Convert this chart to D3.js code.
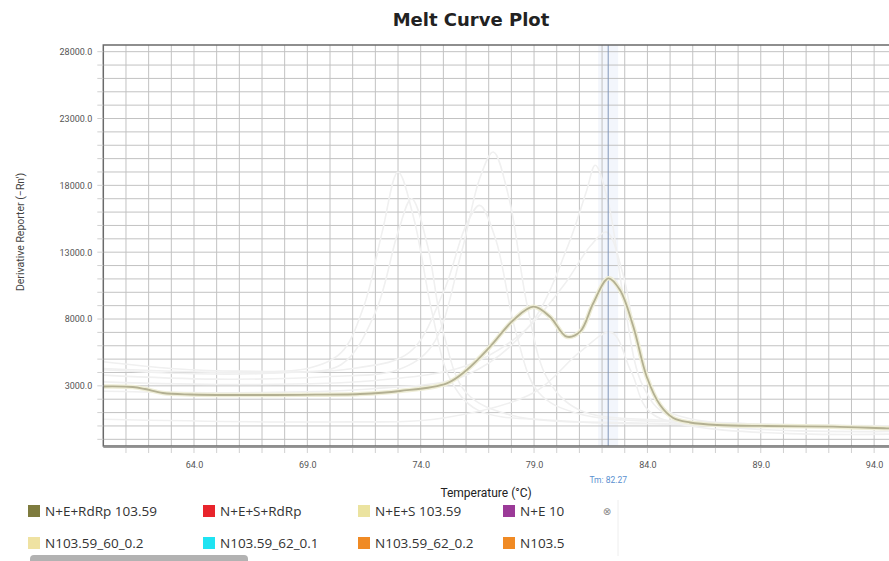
<!DOCTYPE html>
<html>
<head>
<meta charset="utf-8">
<script src="https://cdn.jsdelivr.net/npm/d3@7"></script>
<style>
  html, body { margin: 0; padding: 0; background: #fff; overflow: hidden; }
  svg { display: block; }
</style>
</head>
<body>
<svg id="chart" width="889" height="561"></svg>
<script>
// ---------------- DATA ----------------
const chartTitle = "Melt Curve Plot";
const xLabel = "Temperature (°C)";
const yLabel = "Derivative Reporter (\u2212Rn')";
const xDomain = [60, 95];
const yDomain = [-1500, 28500];
const xTickValues = [64, 69, 74, 79, 84, 89, 94];
const yTickValues = [3000, 8000, 13000, 18000, 23000, 28000];
const tmValue = 82.27;

// highlighted sample (N+E+RdRp 103.59)
const mainTemps  = [60, 61.3, 61.84, 62.63, 63.82, 66.47, 68.68, 71.32, 73.09, 75.15, 76.03, 77.06, 78.09, 78.97, 79.7, 80.44, 81.03, 81.61, 82.28, 82.79, 83.38, 83.97, 84.56, 85.14, 85.88, 87.06, 89.26, 92.19, 94.56, 95];
const mainValues = [2950, 2914, 2764, 2465, 2353, 2315, 2330, 2390, 2615, 3190, 4186, 5929, 7926, 8921, 8173, 6677, 7051, 9176, 11046, 10170, 7425, 3684, 1567, 594, 258, 71, -4, -56, -176, -190];

// faded (non-selected) samples: [temperature, value]
const fadedA = [[60,4800],[63,4300],[66,4100],[69,4300],[70.5,5500],[71.5,9000],[72.3,14500],[73,19000],[73.7,15500],[74.5,8500],[75.3,3500],[76.5,1200],[80,400],[86,100],[95,-200]];
const fadedB = [[60,4200],[64,3900],[68,4000],[70.5,4600],[72,8500],[73,14500],[73.6,17000],[74.3,13500],[75,7000],[76,2500],[78,800],[84,200],[95,-100]];
const fadedC = [[60,3800],[65,3500],[70,3700],[73,4200],[74.5,6000],[75.8,13000],[76.6,18500],[77.2,20500],[77.9,17000],[78.7,9000],[79.6,3500],[81,1200],[85,400],[95,0]];
const fadedD = [[60,4300],[66,4000],[71,4300],[73.5,5500],[75,10000],[76,15000],[76.6,16500],[77.3,14000],[78.2,7000],[79.2,2500],[81,900],[88,200],[95,-300]];
const fadedE = [[60,3300],[66,3100],[72,3400],[76,4500],[78.5,7000],[80.3,10500],[81.5,13500],[82.2,14500],[82.9,11500],[83.7,5000],[84.6,1500],[86,500],[95,-100]];
const fadedF = [[60,2600],[67,2500],[72,2800],[76,3800],[78.8,7500],[80.5,13500],[81.3,17500],[81.7,19500],[82.3,16500],[83,9000],[83.8,3000],[85,700],[95,-400]];
const fadedG = [[60,500],[70,300],[75,600],[79,2500],[81,5500],[82.4,7000],[83.3,4000],[84.3,800],[95,-600]];

const legendLabels = ["N+E+RdRp 103.59", "N+E+S+RdRp", "N+E+S 103.59", "N+E 10",
                      "N103.59_60_0.2", "N103.59_62_0.1", "N103.59_62_0.2", "N103.5"];
const legendColors = ["#7e7b3e", "#e8242c", "#ebe3a0", "#9b3a98",
                      "#efe2a2", "#1fe3f2", "#f08a24", "#f08a24"];

// ---------------- LAYOUT ----------------
const svg = d3.select("#chart");
const plot = { left: 103.3, top: 45, right: 896.8, bottom: 446 };

const x = d3.scaleLinear().domain(xDomain).range([plot.left, plot.right]);
const y = d3.scaleLinear().domain(yDomain).range([plot.bottom, plot.top]);

svg.append("defs").append("clipPath").attr("id", "clip")
  .append("rect").attr("x", plot.left).attr("y", plot.top)
  .attr("width", plot.right - plot.left).attr("height", plot.bottom - plot.top);

// title
svg.append("text").attr("x", 471).attr("y", 26).attr("text-anchor", "middle")
  .attr("font-family", "DejaVu Sans, Verdana, sans-serif").attr("font-weight", "bold")
  .attr("font-size", 18).attr("fill", "#222").text(chartTitle);

const g = svg.append("g").attr("clip-path", "url(#clip)");

// Tm highlight band
g.append("rect").attr("x", x(tmValue) - 10).attr("y", plot.top)
  .attr("width", 20).attr("height", plot.bottom - plot.top)
  .attr("fill", "#f3f6fc");

// grid
const xGrid = d3.range(61, 95, 1);
const yGrid = d3.range(-1000, 28001, 1000);
g.append("g").selectAll("line").data(xGrid).join("line")
  .attr("x1", d => x(d)).attr("x2", d => x(d))
  .attr("y1", plot.top).attr("y2", plot.bottom)
  .attr("stroke", "#c2c2c2").attr("stroke-width", 1);
g.append("g").selectAll("line").data(yGrid).join("line")
  .attr("x1", plot.left).attr("x2", plot.right)
  .attr("y1", d => y(d)).attr("y2", d => y(d))
  .attr("stroke", "#c2c2c2").attr("stroke-width", 1);

// faded curves
const line = d3.line().x(d => x(d[0])).y(d => y(d[1])).curve(d3.curveCatmullRom.alpha(0.5));
const faded = [fadedA, fadedB, fadedC, fadedD, fadedE, fadedF, fadedG];
g.append("g").selectAll("path").data(faded).join("path")
  .attr("d", line).attr("fill", "none")
  .attr("stroke", "#f0f0f0").attr("stroke-width", 1.6);

// Tm line
g.append("line").attr("x1", x(tmValue)).attr("x2", x(tmValue))
  .attr("y1", plot.top).attr("y2", plot.bottom)
  .attr("stroke", "#8096b8").attr("stroke-width", 1);

// main curve
const mainData = mainTemps.map((t, i) => [t, mainValues[i]]);
g.append("path").attr("d", line(mainData)).attr("fill", "none")
  .attr("stroke", "#efeed8").attr("stroke-width", 4.5);
g.append("path").attr("d", line(mainData)).attr("fill", "none")
  .attr("stroke", "#b3b092").attr("stroke-width", 1.8);

// border
svg.append("rect").attr("x", plot.left).attr("y", plot.top)
  .attr("width", plot.right - plot.left).attr("height", plot.bottom - plot.top)
  .attr("fill", "none").attr("stroke", "#6a6a6a").attr("stroke-width", 1.5);
svg.append("line").attr("x1", plot.left).attr("x2", plot.right)
  .attr("y1", plot.bottom + 1.5).attr("y2", plot.bottom + 1.5)
  .attr("stroke", "#9a9a9a").attr("stroke-width", 1);

// axes
const xAxis = d3.axisBottom(x).tickValues(xTickValues).tickFormat(d3.format(".1f")).tickSize(0).tickPadding(16);
const yAxis = d3.axisLeft(y).tickValues(yTickValues).tickFormat(d3.format(".1f")).tickSize(0).tickPadding(11);
const xa = svg.append("g").attr("transform", `translate(0,${plot.bottom})`).call(xAxis);
const ya = svg.append("g").attr("transform", `translate(${plot.left},0)`).call(yAxis);
[xa, ya].forEach(a => {
  a.select(".domain").remove();
  a.selectAll("text").attr("font-family", "Roboto, sans-serif").attr("font-size", 9).attr("fill", "#555");
});
// minor tick marks
svg.append("g").selectAll("line").data(yGrid).join("line")
  .attr("x1", plot.left - 6).attr("x2", plot.left)
  .attr("y1", d => y(d)).attr("y2", d => y(d))
  .attr("stroke", "#d0d0d0").attr("stroke-width", 1);
svg.append("g").selectAll("line").data(xGrid).join("line")
  .attr("x1", d => x(d)).attr("x2", d => x(d))
  .attr("y1", plot.bottom + 2).attr("y2", plot.bottom + 7)
  .attr("stroke", "#d0d0d0").attr("stroke-width", 1);

// axis titles
svg.append("text").attr("x", 486).attr("y", 497).attr("text-anchor", "middle")
  .attr("font-family", "Roboto, sans-serif").attr("font-size", 12).attr("fill", "#222").text(xLabel);
svg.append("text").attr("transform", "translate(24,232) rotate(-90)").attr("text-anchor", "middle")
  .attr("font-family", "Roboto, sans-serif").attr("font-size", 10.5).attr("fill", "#444").text(yLabel);

// Tm label
svg.append("text").attr("x", x(tmValue)).attr("y", 483).attr("text-anchor", "middle")
  .attr("font-family", "Roboto, sans-serif").attr("font-size", 8.5).attr("fill", "#5a8fd0")
  .text("Tm: " + tmValue.toFixed(2));

// legend
svg.append("defs").append("clipPath").attr("id", "legclip")
  .append("rect").attr("x", 0).attr("y", 500).attr("width", 586).attr("height", 61);
const legend = svg.append("g").attr("clip-path", "url(#legclip)");
const colX = [28, 203, 358, 503];
const rowY = [511, 543];
legendLabels.forEach((lab, i) => {
  const cx = colX[i % 4], cy = rowY[Math.floor(i / 4)];
  legend.append("rect").attr("x", cx).attr("y", cy - 6).attr("width", 12).attr("height", 12)
    .attr("fill", legendColors[i]);
  legend.append("text").attr("x", cx + 17).attr("y", cy + 5)
    .attr("font-family", "Open Sans, sans-serif").attr("font-size", 13.5).attr("fill", "#333").text(lab);
});
svg.append("text").attr("x", 607).attr("y", 515).attr("text-anchor", "middle")
  .attr("font-family", "DejaVu Sans, sans-serif").attr("font-size", 10).attr("fill", "#888").text("\u2297");
svg.append("line").attr("x1", 618).attr("x2", 618).attr("y1", 500).attr("y2", 556)
  .attr("stroke", "#eeeeee").attr("stroke-width", 1);
// scrollbar
svg.append("rect").attr("x", 30).attr("y", 555).attr("width", 218).attr("height", 10).attr("rx", 4)
  .attr("fill", "#b2b2b2");
</script>
</body>
</html>
